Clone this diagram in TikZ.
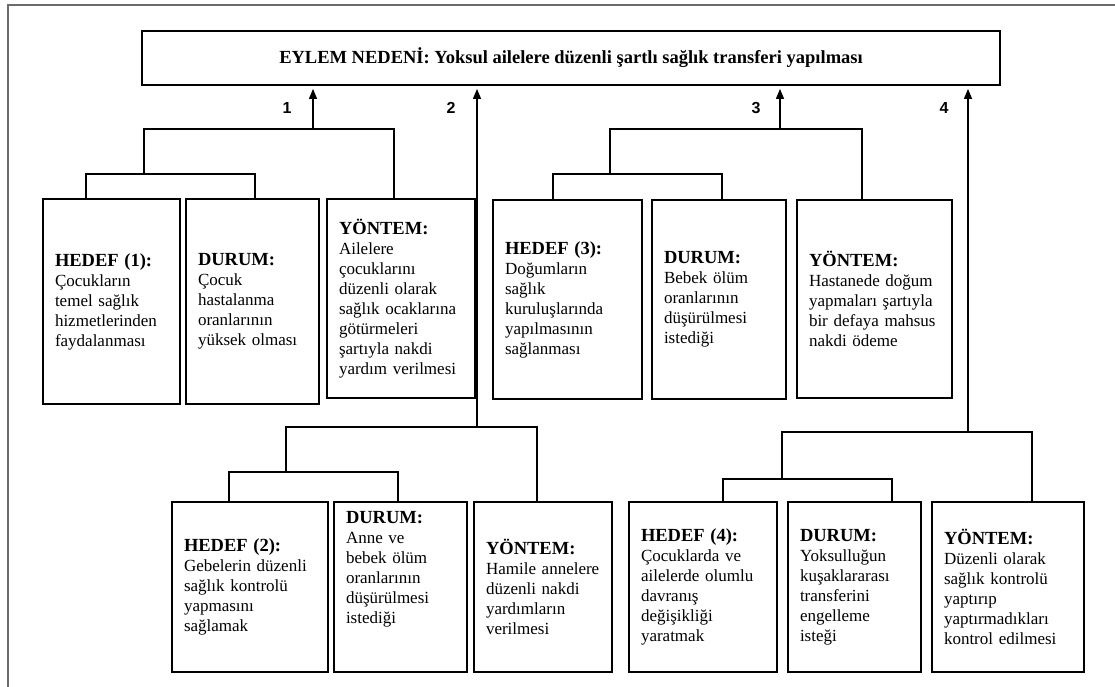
\documentclass[tikz,border=0pt]{standalone}
\usepackage{fontspec}
\setmainfont{Liberation Serif}
\newfontfamily\numfont{Liberation Sans}
\usetikzlibrary{arrows.meta}

\tikzset{
  box/.style={draw, line width=1.8pt, align=left, inner xsep=12pt, inner ysep=0pt,
    font=\fontsize{17}{20}\selectfont},
  link/.style={line width=1.2pt},
  rise/.style={link, -{Triangle[length=10pt,width=8pt]}, shorten >=3pt},
  num/.style={font=\numfont\bfseries\fontsize{16}{16}\selectfont},
}
\newcommand{\hd}[1]{{\fontsize{18.5}{20}\selectfont\bfseries #1}}

\begin{document}
\begin{tikzpicture}[x=1pt,y=-1pt]
\useasboundingbox (0,0) rectangle (1115,687);
\draw[black!58, line width=2pt] (8,687) -- (8,5) -- (1115,5);

\node[draw, line width=1.8pt, minimum width=858pt, minimum height=54pt,
  font=\bfseries\fontsize{18.5}{20}\selectfont] (cause) at (571,58)
  {EYLEM NEDENİ: Yoksul ailelere düzenli şartlı sağlık transferi yapılması};

\node[box, text width=113pt, minimum height=205pt] (h1) at (111.5,301.5)
  {\hd{HEDEF (1):}\\Çocukların\\temel sağlık\\hizmetlerinden\\faydalanması};
\node[box, text width=109pt, minimum height=205pt] (d1) at (252.5,301.5)
  {\hd{DURUM:}\\Çocuk\\hastalanma\\oranlarının\\yüksek olması};
\node[box, text width=124pt, minimum height=199pt] (y1) at (401,298.5)
  {\hd{YÖNTEM:}\\Ailelere\\çocuklarını\\düzenli olarak\\sağlık ocaklarına\\götürmeleri\\şartıyla nakdi\\yardım verilmesi};

\node[box, text width=125pt, minimum height=199pt] (h3) at (567.5,299.5)
  {\hd{HEDEF (3):}\\Doğumların\\sağlık\\kuruluşlarında\\yapılmasının\\sağlanması};
\node[box, text width=110pt, minimum height=199pt] (d3) at (719,299.5)
  {\hd{DURUM:}\\Bebek ölüm\\oranlarının\\düşürülmesi\\istediği};
\node[box, text width=131pt, minimum height=198pt] (y3) at (874.5,299)
  {\hd{YÖNTEM:}\\Hastanede doğum\\yapmaları şartıyla\\bir defaya mahsus\\nakdi ödeme};

\node[box, text width=132pt, minimum height=170pt] (h2) at (250,587)
  {\hd{HEDEF (2):}\\Gebelerin düzenli\\sağlık kontrolü\\yapmasını\\sağlamak};
\node[box, text width=109pt, minimum height=170pt, text depth=140pt] (d2) at (400.5,587)
  {\hd{DURUM:}\\Anne ve\\bebek ölüm\\oranlarının\\düşürülmesi\\istediği};
\node[box, text width=114pt, minimum height=170pt] (y2) at (543,587)
  {\hd{YÖNTEM:}\\\mbox{Hamile annelere}\\düzenli nakdi\\yardımların\\verilmesi};

\node[box, text width=124pt, minimum height=170pt] (h4) at (703,587)
  {\hd{HEDEF (4):}\\Çocuklarda ve\\ailelerde olumlu\\davranış\\değişikliği\\yaratmak};
\node[box, text width=109pt, minimum height=170pt] (d4) at (854.5,587)
  {\hd{DURUM:}\\Yoksulluğun\\kuşaklararası\\transferini\\engelleme\\isteği};
\node[box, text width=128pt, minimum height=170pt] (y4) at (1008,587)
  {\hd{YÖNTEM:}\\Düzenli olarak\\sağlık kontrolü\\yaptırıp\\yaptırmadıkları\\kontrol edilmesi};

\coordinate (j1) at (144,174);
\coordinate (g1) at (313,129);
\coordinate (j3) at (610,174);
\coordinate (g3) at (780,129);
\coordinate (j2) at (286,472);
\coordinate (g2) at (477,427);
\coordinate (j4) at (782,479);
\coordinate (g4) at (968,432);

\draw[link] ([xshift=-25.5pt]h1.north) |- (j1) -| ([xshift=2.5pt]d1.north);
\draw[link] (j1) |- (g1) -| ([xshift=-7pt]y1.north);
\draw[rise] (g1) -- (g1 |- cause.south);

\draw[link] ([xshift=-14.5pt]h3.north) |- (j3) -| ([xshift=3pt]d3.north);
\draw[link] (j3) |- (g3) -| ([xshift=-12.5pt]y3.north);
\draw[rise] (g3) -- (g3 |- cause.south);

\draw[link] ([xshift=-21pt]h2.north) |- (j2) -| ([xshift=-2.5pt]d2.north);
\draw[link] (j2) |- (g2) -| ([xshift=-6pt]y2.north);
\draw[rise] (g2) -- (g2 |- cause.south);

\draw[link] ([xshift=20pt]h4.north) |- (j4) -| ([xshift=37.5pt]d4.north);
\draw[link] (j4) |- (g4) -| ([xshift=24pt]y4.north);
\draw[rise] (g4) -- (g4 |- cause.south);

\node[num] (n1) at (287,108) {1};
\node[num] (n2) at (451,108) {2};
\node[num] (n3) at (756,108) {3};
\node[num] (n4) at (944,108) {4};
\end{tikzpicture}
\end{document}
